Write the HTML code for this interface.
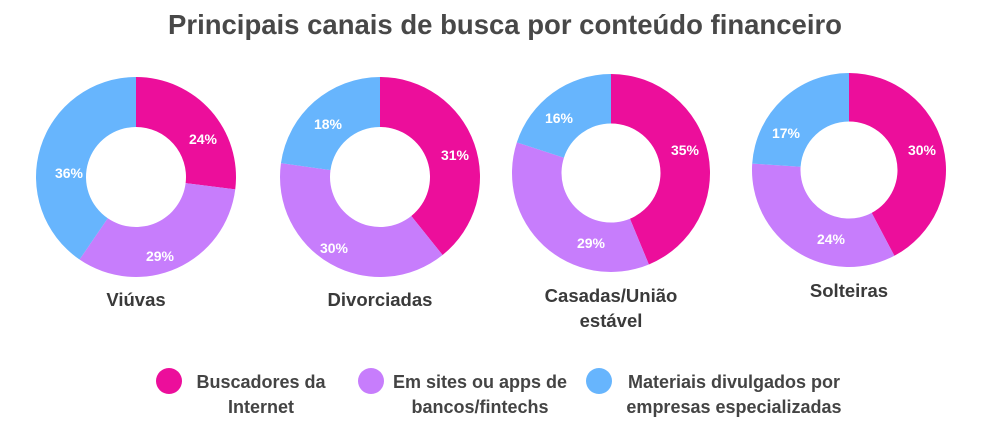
<!DOCTYPE html>
<html><head><meta charset="utf-8"><style>
body{margin:0;background:#fff;}
svg{display:block;font-family:"Liberation Sans",sans-serif;}
</style></head><body>
<svg id="s" width="991" height="424" viewBox="0 0 991 424">
<text x="505" y="34" text-anchor="middle" font-size="27.5" font-weight="bold" fill="#484848">Principais canais de busca por conteúdo financeiro</text>
<g font-size="18.5" font-weight="bold" fill="#3a3a3a" text-anchor="middle">
<text x="136" y="306">Viúvas</text>
<text x="380" y="306">Divorciadas</text>
<text x="611" y="302">Casadas/União</text>
<text x="611" y="327">estável</text>
<text x="849" y="297">Solteiras</text>
</g>
<circle cx="169" cy="381" r="13" fill="#ec0e9b"/>
<circle cx="371" cy="381" r="13" fill="#c77dfc"/>
<circle cx="599" cy="381" r="13" fill="#67b5fd"/>
<g font-size="18" font-weight="bold" fill="#444" text-anchor="middle">
<text x="261" y="388">Buscadores da</text>
<text x="261" y="413">Internet</text>
<text x="480" y="388">Em sites ou apps de</text>
<text x="480" y="413">bancos/fintechs</text>
<text x="734" y="388">Materiais divulgados por</text>
<text x="734" y="413">empresas especializadas</text>
</g>
<g id="d"></g>
</svg>
<script>
var data=[[136,177,100,[24,29,36],[[203,139],[160,256],[69,173]]],
[380,177,100,[31,30,18],[[455,155],[334,248],[328,124]]],
[611,173,99,[35,29,16],[[685,150],[591,243],[559,118]]],
[849,170,97,[30,24,17],[[922,150],[831,239],[786,133]]]];
var cols=["#ec0e9b","#c77dfc","#67b5fd"];
var g=document.getElementById("d"),h="";
data.forEach(function(d){
 var cx=d[0],cy=d[1],R=d[2],r=R*0.5,v=d[3],t=v[0]+v[1]+v[2],a=0;
 v.forEach(function(x,i){
  var a0=a/t*2*Math.PI,a1=(a+x)/t*2*Math.PI;a+=x;
  function p(rad,an){return [cx+rad*Math.sin(an),cy-rad*Math.cos(an)];}
  var A=p(R,a0),B=p(R,a1),C=p(r,a1),D=p(r,a0),l=(a1-a0)>Math.PI?1:0;
  h+='<path fill="'+cols[i]+'" d="M'+A+' A'+R+','+R+' 0 '+l+' 1 '+B+' L'+C+' A'+r+','+r+' 0 '+l+' 0 '+D+'Z"/>';
 });
 v.forEach(function(x,i){
  var m=d[4][i];
  h+='<text x="'+m[0]+'" y="'+(m[1]+5)+'" text-anchor="middle" font-size="14" font-weight="bold" fill="#fff">'+x+'%</text>';
 });
});
g.innerHTML=h;
</script>
</body></html>
